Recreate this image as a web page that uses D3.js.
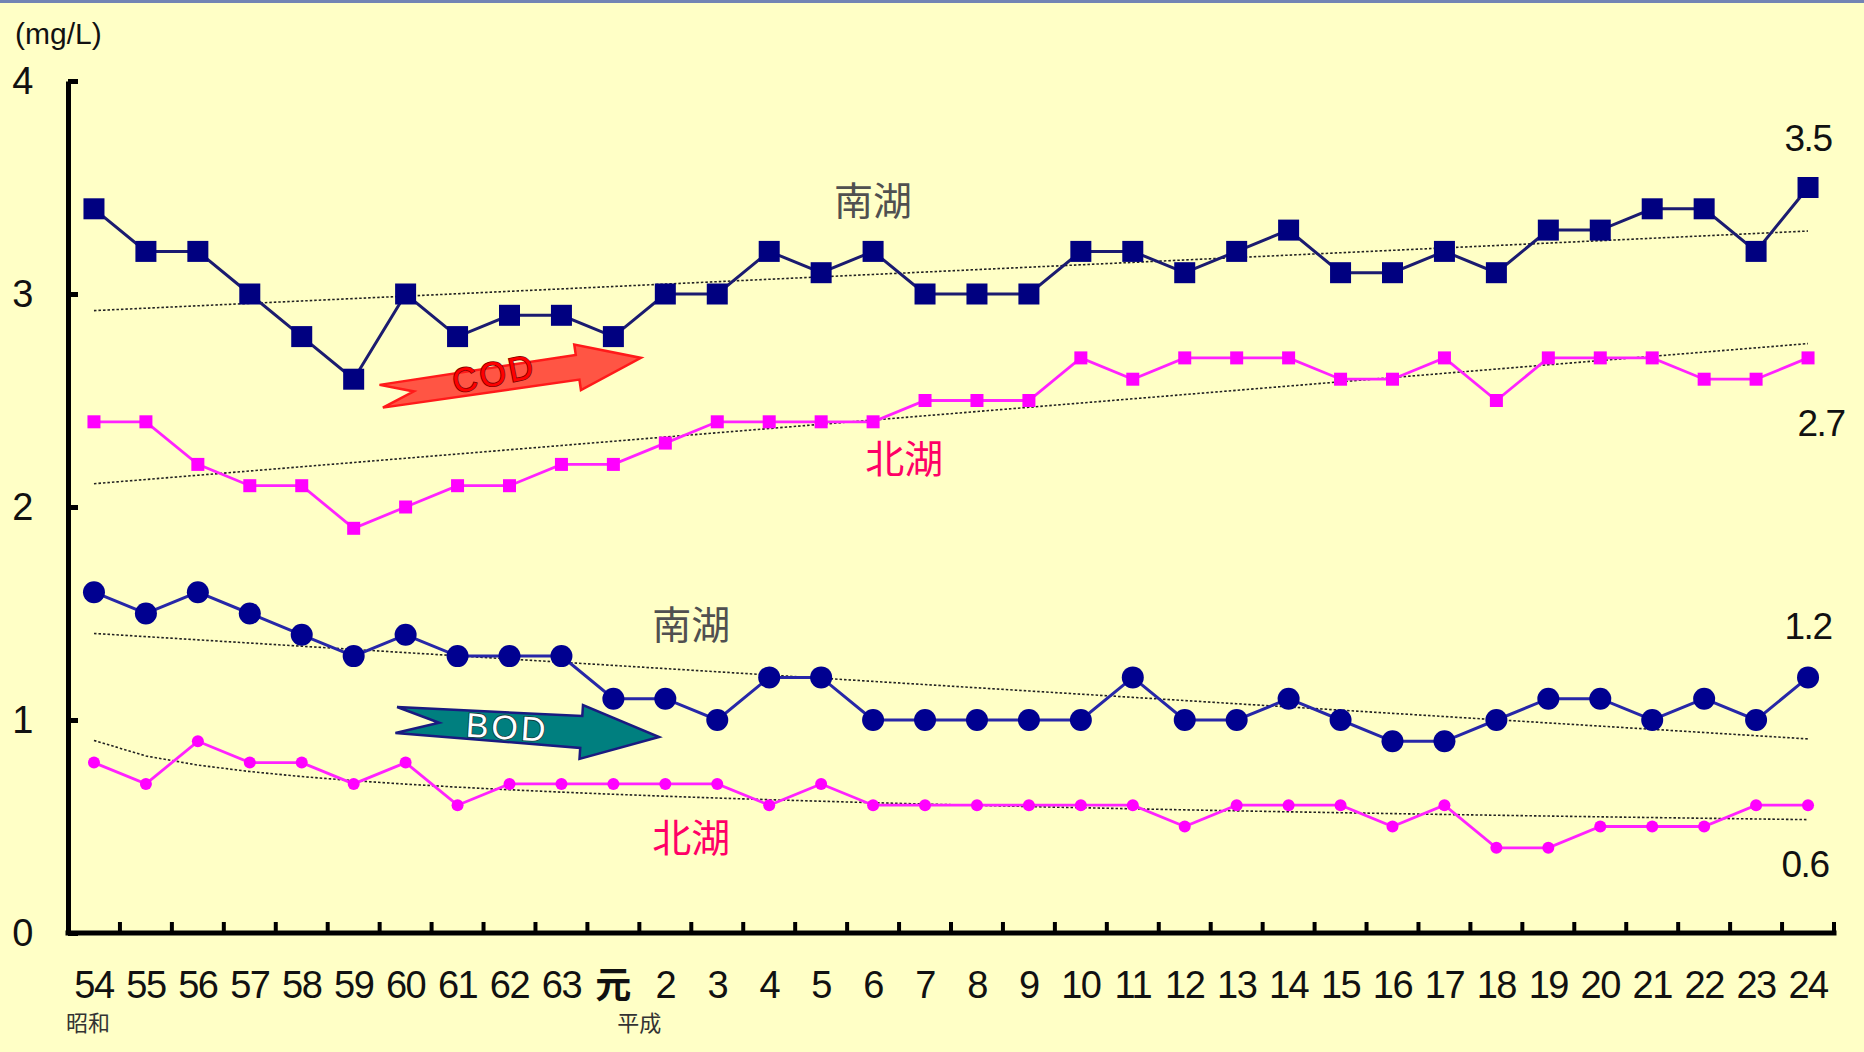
<!DOCTYPE html>
<meta charset="utf-8">
<title>COD / BOD</title>
<style>
body { margin: 0; background: #FFFFC6; }
svg { display: block; }
.num { font-family: "Liberation Sans Narrow", "Liberation Sans", Arial, sans-serif; fill: #111; letter-spacing: -1.5px; }
.jp { font-family: "Noto Sans CJK JP", sans-serif; }
.trend { fill: none; stroke: #222; stroke-width: 1.6; stroke-dasharray: 2.5,2; }
</style>
<body>
<svg width="1864" height="1052"></svg>
<script src="https://d3js.org/d3.v7.min.js"></script>
<script>

// years: 昭和54 .. 昭和63, 平成元 .. 平成24
var years = ["54","55","56","57","58","59","60","61","62","63","元","2","3","4","5","6","7","8","9","10","11","12","13","14","15","16","17","18","19","20","21","22","23","24"];

var codSouth = [3.4,3.2,3.2,3.0,2.8,2.6,3.0,2.8,2.9,2.9,2.8,3.0,3.0,3.2,3.1,3.2,3.0,3.0,3.0,3.2,3.2,3.1,3.2,3.3,3.1,3.1,3.2,3.1,3.3,3.3,3.4,3.4,3.2,3.5];
var codNorth = [2.4,2.4,2.2,2.1,2.1,1.9,2.0,2.1,2.1,2.2,2.2,2.3,2.4,2.4,2.4,2.4,2.5,2.5,2.5,2.7,2.6,2.7,2.7,2.7,2.6,2.6,2.7,2.5,2.7,2.7,2.7,2.6,2.6,2.7];
var bodSouth = [1.6,1.5,1.6,1.5,1.4,1.3,1.4,1.3,1.3,1.3,1.1,1.1,1.0,1.2,1.2,1.0,1.0,1.0,1.0,1.0,1.2,1.0,1.0,1.1,1.0,0.9,0.9,1.0,1.1,1.1,1.0,1.1,1.0,1.2];
var bodNorth = [0.8,0.7,0.9,0.8,0.8,0.7,0.8,0.6,0.7,0.7,0.7,0.7,0.7,0.6,0.7,0.6,0.6,0.6,0.6,0.6,0.6,0.5,0.6,0.6,0.6,0.5,0.6,0.4,0.4,0.5,0.5,0.5,0.6,0.6];

var yTicks = [0, 1, 2, 3, 4];

var svg = d3.select("svg");

// thin slide border strip on top
svg.append("rect").attr("x", 0).attr("y", 0).attr("width", 1864).attr("height", 3).attr("fill", "#7284b4");

var pLeft = 68, pRight = 1834, pTop = 81, pBottom = 933;

var x = d3.scaleBand().domain(years).range([pLeft, pRight]).padding(0);
var y = d3.scaleLinear().domain([0, 4]).range([pBottom, pTop]);
var cx = function(i) { return x(years[i]) + x.bandwidth() / 2; };

// unit label
svg.append("text").attr("class", "num").attr("x", 15).attr("y", 44)
  .style("font-size", "30px").style("letter-spacing", "0px").text("(mg/L)");

// y axis
var gy = svg.append("g").attr("transform", "translate(" + pLeft + ",0)")
  .call(d3.axisLeft(y).tickValues(yTicks).tickSizeInner(-10).tickSizeOuter(0).tickPadding(36).tickFormat(d3.format("d")));
gy.select(".domain").attr("stroke", "#000").attr("stroke-width", 5);
gy.selectAll(".tick line").attr("stroke", "#000").attr("stroke-width", 5);
gy.selectAll(".tick text").attr("class", "num").style("font-size", "38px").attr("fill", "#111");

// x axis (ticks on band boundaries, pointing up)
svg.append("line").attr("x1", pLeft - 2.5).attr("x2", pRight + 2.5).attr("y1", pBottom).attr("y2", pBottom)
  .attr("stroke", "#000").attr("stroke-width", 5);
svg.append("g").selectAll("line").data(years).join("line")
  .attr("x1", function(d) { return x(d) + x.bandwidth(); })
  .attr("x2", function(d) { return x(d) + x.bandwidth(); })
  .attr("y1", pBottom).attr("y2", pBottom - 11)
  .attr("stroke", "#000").attr("stroke-width", 4);
svg.append("g").selectAll("text").data(years).join("text")
  .attr("class", function(d) { return d === "元" ? "jp" : "num"; })
  .attr("x", function(d) { return x(d) + x.bandwidth() / 2; })
  .attr("y", 998)
  .attr("text-anchor", "middle")
  .style("font-size", function(d) { return d === "元" ? "36px" : "38px"; })
  .style("font-weight", function(d) { return d === "元" ? "bold" : "normal"; })
  .attr("fill", "#111")
  .text(function(d) { return d; });

svg.append("text").attr("class", "jp").attr("x", cx(0) - 6).attr("y", 1031).attr("text-anchor", "middle")
  .style("font-size", "22px").attr("fill", "#333").text("昭和");
svg.append("text").attr("class", "jp").attr("x", cx(10) + 26).attr("y", 1031).attr("text-anchor", "middle")
  .style("font-size", "22px").attr("fill", "#333").text("平成");

// trend lines (least squares, like spreadsheet trendlines)
function linFit(vals) {
  var n = vals.length, xs = d3.range(1, n + 1);
  var mx = d3.mean(xs), my = d3.mean(vals);
  var b = d3.sum(xs, function(t, i) { return (t - mx) * (vals[i] - my); }) / d3.sum(xs, function(t) { return (t - mx) * (t - mx); });
  return function(t) { return my + b * (t - mx); };
}
function logFit(vals) {
  var n = vals.length, ls = d3.range(1, n + 1).map(Math.log);
  var mx = d3.mean(ls), my = d3.mean(vals);
  var b = d3.sum(ls, function(t, i) { return (t - mx) * (vals[i] - my); }) / d3.sum(ls, function(t) { return (t - mx) * (t - mx); });
  return function(t) { return my + b * (Math.log(t) - mx); };
}
var trendLine = d3.line().x(function(d) { return cx(d[0]); }).y(function(d) { return y(d[1]); });
[[codSouth, linFit], [codNorth, linFit], [bodSouth, linFit], [bodNorth, logFit]].forEach(function(s) {
  var f = s[1](s[0]);
  var pts = d3.range(0, years.length).map(function(i) { return [i, f(i + 1)]; });
  svg.append("path").attr("class", "trend").attr("d", trendLine(pts));
});

// series
var line = d3.line().x(function(d, i) { return cx(i); }).y(function(d) { return y(d); });

function drawSeries(vals, lineColor, lineW, fill, shape, size) {
  svg.append("path").attr("d", line(vals)).attr("fill", "none")
    .attr("stroke", lineColor).attr("stroke-width", lineW);
  var g = svg.append("g");
  if (shape === "square") {
    g.selectAll("rect").data(vals).join("rect")
      .attr("x", function(d, i) { return cx(i) - size / 2; })
      .attr("y", function(d) { return y(d) - size / 2; })
      .attr("width", size).attr("height", size).attr("fill", fill);
  } else {
    g.selectAll("circle").data(vals).join("circle")
      .attr("cx", function(d, i) { return cx(i); })
      .attr("cy", function(d) { return y(d); })
      .attr("r", size / 2).attr("fill", fill);
  }
}

drawSeries(codSouth, "#1b1b70", 3, "#000080", "square", 21);
drawSeries(codNorth, "#ff22ff", 2.8, "#ff00ff", "square", 13);
drawSeries(bodSouth, "#2727a8", 3, "#000090", "circle", 22);
drawSeries(bodNorth, "#ff22ff", 2.8, "#ff00ff", "circle", 12);

// lake labels
var lakeLabels = [
  { t: "南湖", i: 15.0, v: 3.45, c: "#505050" },
  { t: "北湖", i: 15.6, v: 2.24, c: "#ff0066" },
  { t: "南湖", i: 11.5, v: 1.46, c: "#505050" },
  { t: "北湖", i: 11.5, v: 0.46, c: "#ff0066" }
];
svg.append("g").selectAll("text").data(lakeLabels).join("text")
  .attr("class", "jp")
  .attr("x", function(d) { return cx(0) + d.i * x.step(); })
  .attr("y", function(d) { return y(d.v); })
  .attr("text-anchor", "middle").attr("dominant-baseline", "central")
  .style("font-size", "39px").attr("fill", function(d) { return d.c; })
  .text(function(d) { return d.t; });

// end values
var endLabels = [
  { t: "3.5", v: 3.73, dx: 0 },
  { t: "2.7", v: 2.39, dx: 13 },
  { t: "1.2", v: 1.44, dx: 0 },
  { t: "0.6", v: 0.32, dx: -3 }
];
svg.append("g").selectAll("text").data(endLabels).join("text")
  .attr("class", "num")
  .attr("x", function(d) { return cx(years.length - 1) + d.dx; })
  .attr("y", function(d) { return y(d.v); })
  .attr("text-anchor", "middle").attr("dominant-baseline", "central")
  .style("font-size", "37px")
  .text(function(d) { return d.t; });

// decorative trend arrows: tail/tip given in (category index, value)
function arrow(from, to, tailHW, baseHW, headHW, headLen, notch, fill, stroke, label, txtFill, txtStroke) {
  var x0 = cx(0) + from[0] * x.step(), y0 = y(from[1]);
  var x1 = cx(0) + to[0] * x.step(), y1 = y(to[1]);
  var L = Math.hypot(x1 - x0, y1 - y0), ang = Math.atan2(y1 - y0, x1 - x0) * 180 / Math.PI;
  var hb = L - headLen;
  var pts = [[0, -tailHW], [hb, -baseHW], [hb, -headHW], [L, 0], [hb, headHW], [hb, baseHW], [0, tailHW], [notch, 0]];
  var g = svg.append("g").attr("transform", "translate(" + x0 + "," + y0 + ") rotate(" + ang + ")");
  g.append("path").attr("d", "M" + pts.join("L") + "Z").attr("fill", fill).attr("stroke", stroke).attr("stroke-width", 2.5);
  var tx = g.append("text").attr("x", hb * 0.53 + notch * 0.3).attr("y", 0)
    .attr("text-anchor", "middle").attr("dominant-baseline", "central")
    .style("font-family", "Liberation Sans, Arial, sans-serif").style("font-size", "34px")
    .style("letter-spacing", "3px")
    .attr("fill", txtFill).attr("stroke", txtStroke).attr("stroke-width", 1.6).attr("paint-order", "stroke")
    .text(label);
  return tx;
}
arrow([5.53, 2.52], [10.53, 2.70], 11.5, 12.5, 23, 64, 33, "#ff5544", "#ff1a1a", "COD", "#ff0000", "#7a0000")
  .attr("transform", "rotate(-3)");
arrow([5.82, 1.00], [10.88, 0.92], 13, 16, 27, 78, 43, "#007f7f", "#1a1a80", "BOD", "#ffffff", "#1a3a3a");

</script>
</body>
